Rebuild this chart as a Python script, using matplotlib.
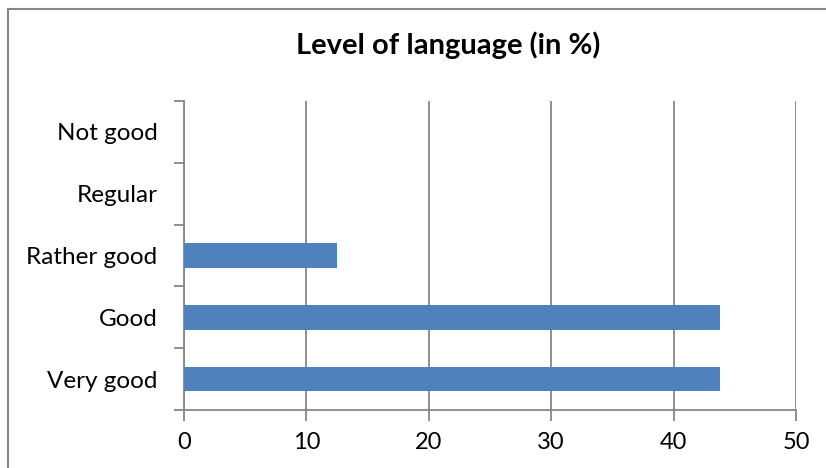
import matplotlib.pyplot as plt
from matplotlib.patches import Rectangle
import numpy as np

# data
categories = ["Very good", "Good", "Rather good", "Regular", "Not good"]
values = [43.75, 43.75, 12.5, 0, 0]
xticks = [0, 10, 20, 30, 40, 50]

plt.rcParams['font.family'] = ['Lato', 'DejaVu Sans']

W, H = 826, 468
fig = plt.figure(figsize=(W / 100, H / 100), dpi=100)

# axes area in pixels: x 184..796, y 101..410
left, right, top, bottom = 184, 796, 101, 410
ax = fig.add_axes([left / W, 1 - bottom / H, (right - left) / W, (bottom - top) / H])

grey = '#868686'
y = np.arange(len(categories))
ax.barh(y, values, height=0.4, color='#4F81BD', zorder=3)

ax.set_xlim(0, 50)
ax.set_ylim(-0.5, len(categories) - 0.5)
ax.set_xticks(xticks)
ax.set_xticklabels([str(t) for t in xticks], fontsize=17)
ax.xaxis.grid(True, color=grey, linewidth=1.3, zorder=0)

# category labels centred, tick marks between categories (Excel style)
ax.set_yticks(y)
ax.set_yticklabels(categories, fontsize=17.5)
ax.tick_params(axis='y', length=0, pad=19)
ax.set_yticks(np.arange(-0.5, len(categories)), minor=True)
ax.tick_params(axis='y', which='minor', length=7, width=1.3, color=grey, direction='out')
ax.tick_params(axis='x', length=8, width=1.3, color=grey, direction='out', pad=8)

for side in ['top', 'right']:
    ax.spines[side].set_visible(False)
for side in ['left', 'bottom']:
    ax.spines[side].set_color(grey)
    ax.spines[side].set_linewidth(1.3)

fig.text(448 / W, 1 - 45 / H, "Level of language (in %)", ha='center', va='center',
         fontsize=21, fontweight='bold')

# outer chart frame (only left and top edges fall inside the image)
fig.patches.append(Rectangle((8 / W, -0.1), 1.2, 1 - 9 / H + 0.1, transform=fig.transFigure,
                             fill=False, edgecolor=grey, linewidth=1.5))

fig.savefig('out.png', dpi=100)
